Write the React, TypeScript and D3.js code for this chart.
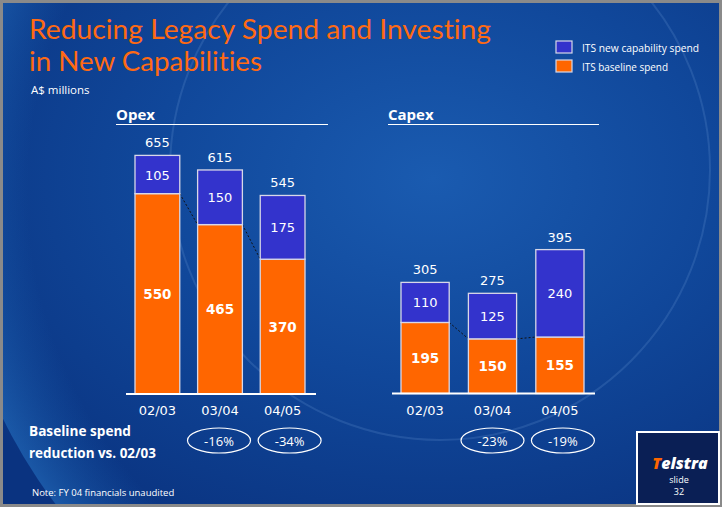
import React from "react";
import * as d3 from "d3";

const categories = ["02/03", "03/04", "04/05"];
const opexBaseline = [550, 465, 370];
const opexNew = [105, 150, 175];
const opexTotal = [655, 615, 545];
const capexBaseline = [195, 150, 155];
const capexNew = [110, 125, 240];
const capexTotal = [305, 275, 395];
const opexReduction = ["", "-16%", "-34%"];
const capexReduction = ["", "-23%", "-19%"];
const legendLabels = ["ITS new capability spend", "ITS baseline spend"];

const W = 722;
const H = 507;
const ORANGE = "#FF6600";
const BLUE = "#3333CC";
const NUM_FONT = "'DejaVu Sans', Verdana, sans-serif";
const TXT_FONT = "'Open Sans', 'Noto Sans', sans-serif";
const TITLE_FONT = "Lato, 'Open Sans', sans-serif";

type PanelProps = {
  title: string;
  baseline: number[];
  added: number[];
  total: number[];
  reduction: string[];
  x0: number;
  x1: number;
  base: number;
  headerX0: number;
  headerX1: number;
  ellipseShift: number[];
};

const y = d3.scaleLinear().domain([0, 700]).range([0, 255]);

function Panel(p: PanelProps) {
  const x = d3
    .scaleBand<string>()
    .domain(categories)
    .range([p.x0, p.x1])
    .paddingInner(0.285)
    .paddingOuter(0);
  const bw = x.bandwidth();
  const yy = (v: number) => p.base - y(v);
  const stack = d3.stack<any>().keys(["baseline", "added"])(
    categories.map((c, i) => ({ cat: c, baseline: p.baseline[i], added: p.added[i] }))
  );
  return (
    <g>
      <text x={p.headerX0} y={120} fill="#fff" fontFamily={TXT_FONT} fontWeight={700} fontSize={15}>
        {p.title}
      </text>
      <line x1={p.headerX0} x2={p.headerX1} y1={124.5} y2={124.5} stroke="#fff" strokeWidth={1.2} />
      {categories.slice(0, -1).map((c, i) => (
        <line
          key={"d" + i}
          x1={(x(c) as number) + bw}
          y1={yy(p.baseline[i])}
          x2={x(categories[i + 1]) as number}
          y2={yy(p.baseline[i + 1])}
          stroke="#111"
          strokeWidth={1}
          strokeDasharray="2,2"
        />
      ))}
      {stack.map((layer, li) =>
        layer.map((d, i) => (
          <rect
            key={li + "-" + i}
            x={x(categories[i]) as number}
            y={yy(d[1])}
            width={bw}
            height={yy(d[0]) - yy(d[1])}
            fill={li === 0 ? ORANGE : BLUE}
            stroke="#d8d8e8"
            strokeWidth={1.3}
          />
        ))
      )}
      {categories.map((c, i) => {
        const cx = (x(c) as number) + bw / 2;
        return (
          <g key={"l" + i} fontFamily={NUM_FONT} textAnchor="middle" fill="#fff">
            <text x={cx} y={yy(p.total[i]) - 8} fontSize={13}>
              {p.total[i]}
            </text>
            <text x={cx} y={(yy(p.baseline[i]) + yy(p.total[i])) / 2 + 5} fontSize={13}>
              {p.added[i]}
            </text>
            <text x={cx} y={(yy(0) + yy(p.baseline[i])) / 2 + 5} fontSize={13.5} fontWeight={700}>
              {p.baseline[i]}
            </text>
            <text x={cx} y={415} fontSize={13}>
              {c}
            </text>
            {p.reduction[i] && (
              <g>
                <ellipse cx={cx + p.ellipseShift[i]} cy={440.5} rx={31.5} ry={12.5} fill="none" stroke="#fff" strokeWidth={1.2} />
                <text x={cx + p.ellipseShift[i]} y={445.5} fontSize={13} fontFamily={TXT_FONT}>
                  {p.reduction[i]}
                </text>
              </g>
            )}
          </g>
        );
      })}
      <line x1={p.x0 - 9} x2={p.x1 + 11} y1={p.base} y2={p.base} stroke="#fff" strokeWidth={2} />
    </g>
  );
}

export default function App() {
  return (
    <svg
      width={W}
      height={H}
      style={{ position: "absolute", left: 0, top: 0, display: "block" }}
    >
      <defs>
        <radialGradient id="bg" cx="0.6" cy="0.35" r="0.8">
          <stop offset="0" stopColor="#1a5bb0" />
          <stop offset="0.5" stopColor="#10479a" />
          <stop offset="1" stopColor="#0a3380" />
        </radialGradient>
        <radialGradient id="arc" cx="0.5" cy="0.5" r="0.5">
          <stop offset="0.85" stopColor="#1e6cc0" stopOpacity="0" />
          <stop offset="1" stopColor="#2a7ccc" stopOpacity="0.5" />
        </radialGradient>
        <clipPath id="frame">
          <rect x={3} y={3} width={W - 6} height={H - 6} />
        </clipPath>
      </defs>
      <rect x={0} y={0} width={W} height={H} fill="#8a8a8a" />
      <g clipPath="url(#frame)">
        <rect x={3} y={3} width={W - 6} height={H - 6} fill="url(#bg)" />
        <circle cx={470} cy={190} r={520} fill="url(#arc)" />
        <circle cx={440} cy={170} r={270} fill="none" stroke="#6d9ad6" strokeOpacity={0.22} strokeWidth={2} />
      </g>
      <g fontFamily={TITLE_FONT} fill="#FF6A13" fontSize={26} style={{ fontVariantLigatures: "none" }}>
        <text x={29} y={39} textLength={462} lengthAdjust="spacingAndGlyphs">
          Reducing Legacy Spend and Investing
        </text>
        <text x={29} y={71} textLength={233} lengthAdjust="spacingAndGlyphs">
          in New Capabilities
        </text>
      </g>
      <text x={31} y={94} fill="#fff" fontFamily={TXT_FONT} fontSize={11.5}>
        A$ millions
      </text>
      <g fontFamily={TXT_FONT} fontSize={10.5} fill="#fff">
        <rect x={556} y={41} width={16} height={12} fill={BLUE} stroke="#d8d8e8" strokeWidth={1.2} />
        <text x={582} y={52} textLength={117} lengthAdjust="spacingAndGlyphs">{legendLabels[0]}</text>
        <rect x={556} y={60} width={16} height={12} fill={ORANGE} stroke="#d8d8e8" strokeWidth={1.2} />
        <text x={582} y={71} textLength={86} lengthAdjust="spacingAndGlyphs">{legendLabels[1]}</text>
      </g>
      <Panel
        title="Opex"
        baseline={opexBaseline}
        added={opexNew}
        total={opexTotal}
        reduction={opexReduction}
        x0={135}
        x1={305}
        base={394}
        headerX0={116}
        headerX1={328}
        ellipseShift={[0, -1, 7]}
      />
      <Panel
        title="Capex"
        baseline={capexBaseline}
        added={capexNew}
        total={capexTotal}
        reduction={capexReduction}
        x0={401}
        x1={584}
        base={393.5}
        headerX0={388}
        headerX1={599}
        ellipseShift={[0, 0, 3]}
      />
      <g fontFamily={TXT_FONT} fontWeight={700} fontSize={14.5} fill="#fff">
        <text x={29} y={436} textLength={102} lengthAdjust="spacingAndGlyphs">Baseline spend</text>
        <text x={29} y={458} textLength={127} lengthAdjust="spacingAndGlyphs">reduction vs. 02/03</text>
      </g>
      <text x={32} y={496} fontFamily={TXT_FONT} fontSize={9.5} fill="#fff">
        Note: FY 04 financials unaudited
      </text>
      <rect x={637} y={432} width={82} height={72} fill="#0a1f55" stroke="#fff" strokeWidth={2} />
      <g fill="#fff" fontFamily={TXT_FONT} textAnchor="middle">
        <text x={680} y={469} fontSize={16} fontWeight={800} fontStyle="italic">
          <tspan fill={ORANGE}>T</tspan>elstra
        </text>
        <text x={679} y={483} fontSize={9}>slide</text>
        <text x={679} y={495} fontSize={9}>32</text>
      </g>
    </svg>
  );
}
